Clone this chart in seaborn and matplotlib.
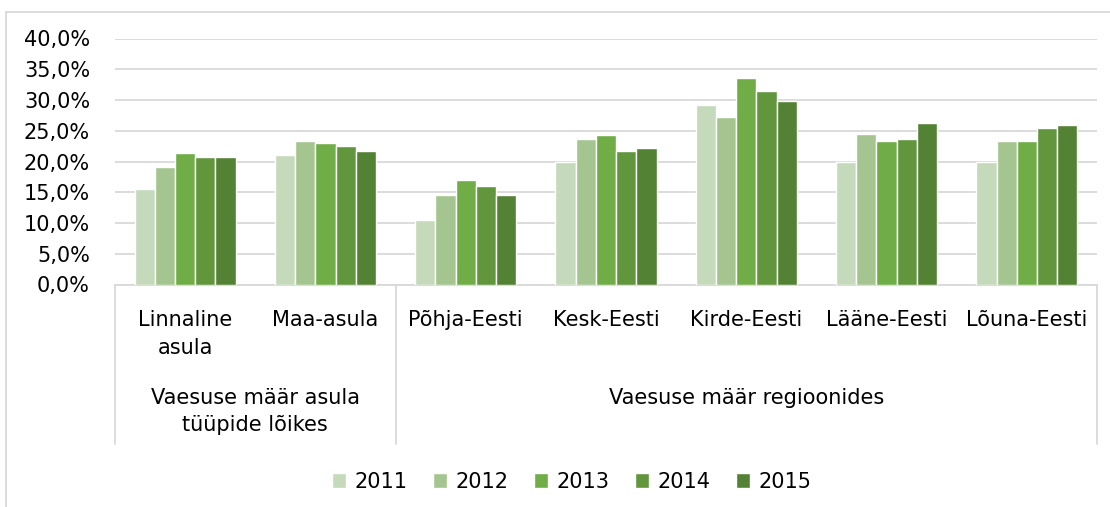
import pandas as pd
import matplotlib.pyplot as plt
from matplotlib.patches import Rectangle
from matplotlib.ticker import FuncFormatter
import seaborn as sns

# andmed pildilt loetud
kategooriad = ['Linnaline\nasula', 'Maa-asula', 'Põhja-Eesti', 'Kesk-Eesti',
               'Kirde-Eesti', 'Lääne-Eesti', 'Lõuna-Eesti']
aastad = ['2011', '2012', '2013', '2014', '2015']
v2011 = [15.6, 21.1, 10.5, 20.0, 29.2, 20.0, 20.0]
v2012 = [19.1, 23.4, 14.5, 23.7, 27.2, 24.5, 23.4]
v2013 = [21.4, 23.0, 17.0, 24.3, 33.5, 23.4, 23.4]
v2014 = [20.8, 22.5, 16.0, 21.7, 31.4, 23.6, 25.4]
v2015 = [20.8, 21.7, 14.5, 22.2, 29.8, 26.3, 26.0]
grupid = ['Vaesuse määr asula\ntüüpide lõikes', 'Vaesuse määr regioonides']
varvid = ['#C5D9BB', '#A5C590', '#70AD47', '#62963D', '#548235']

rows = []
for aasta, vals in zip(aastad, [v2011, v2012, v2013, v2014, v2015]):
    for k, v in zip(kategooriad, vals):
        rows.append({'kat': k, 'aasta': aasta, 'vaesus': v / 100})
df = pd.DataFrame(rows)

sns.set_style('white')
plt.rcParams['font.family'] = ['DejaVu Sans']
plt.rcParams['text.color'] = 'black'
plt.rcParams['ytick.color'] = 'black'

fig = plt.figure(figsize=(11.1, 5.07), dpi=100)
ax = fig.add_axes([115 / 1110, 1 - 284.5 / 507, 982 / 1110, 246 / 507])

sns.barplot(data=df, x='kat', y='vaesus', hue='aasta', palette=varvid,
            saturation=1, width=0.72, edgecolor='white', linewidth=1,
            ax=ax, zorder=3)

ax.set_ylim(0, 0.40)
ax.set_xlim(-0.5, 6.5)
ax.set_yticks([i * 0.05 for i in range(9)])
ax.yaxis.set_major_formatter(FuncFormatter(lambda y, p: f'{y*100:.1f}%'.replace('.', ',')))
ax.tick_params(axis='y', labelsize=15, length=0, pad=18, labelcolor='black')
ax.tick_params(axis='x', length=0)
ax.set_xticklabels([])
ax.set_xlabel('')
ax.set_ylabel('')
ax.grid(axis='y', color='#D9D9D9', linewidth=1.3, zorder=0)
for s in ['top', 'left', 'right']:
    ax.spines[s].set_visible(False)
ax.spines['bottom'].set_color('#D9D9D9')
ax.spines['bottom'].set_linewidth(1.3)

# kategooriate tekstid ja eraldusjooned
tr = ax.get_xaxis_transform()
for i, k in enumerate(kategooriad):
    ax.text(i, -0.105, k, transform=tr, ha='center', va='top', fontsize=15,
            linespacing=1.45)
ax.text(0.5, -0.42, grupid[0], transform=tr, ha='center', va='top',
        fontsize=15, linespacing=1.45)
ax.text(4.0, -0.42, grupid[1], transform=tr, ha='center', va='top', fontsize=15)
for x in [-0.5, 1.5, 6.5]:
    ax.plot([x, x], [0, -0.65], transform=tr, color='#D9D9D9', lw=1.3,
            clip_on=False)

# legend
h, l = ax.get_legend_handles_labels()
ax.legend(h, l, loc='center', bbox_to_anchor=(0.515, (507 - 482) / 507),
          bbox_transform=fig.transFigure, ncol=5, frameon=False,
          fontsize=15, handlelength=0.7, handleheight=0.7,
          handletextpad=0.4, columnspacing=1.2)

# välimine raam
fig.patches.append(Rectangle((6 / 1110, -0.1), 1.2, 1 - 12 / 507 + 0.1,
                             transform=fig.transFigure, fill=False,
                             edgecolor='#D9D9D9', lw=1.3))

fig.savefig('out.png', dpi=100)
